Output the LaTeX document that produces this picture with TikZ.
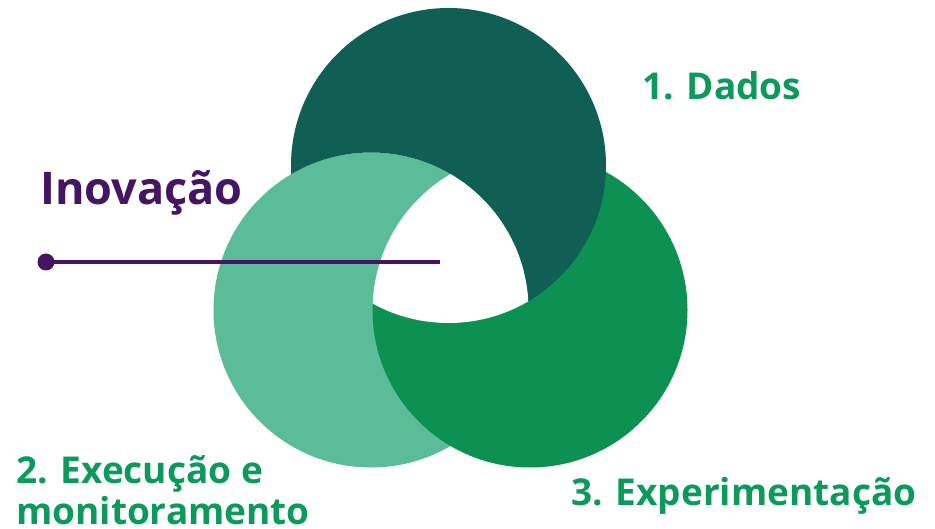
\documentclass[tikz,border=0pt]{standalone}
\usepackage{fontspec}
\setmainfont{Open Sans}
\definecolor{ringdark}{HTML}{0F5F55}
\definecolor{ringlight}{HTML}{5ABD97}
\definecolor{ringmid}{HTML}{0C9153}
\definecolor{labelgreen}{HTML}{0B9A5C}
\definecolor{innov}{HTML}{451563}
\tikzset{
  label/.style={anchor=base west, inner sep=0pt, font=\bfseries\fontsize{37}{41}\selectfont, text=labelgreen, align=left},
  headline/.style={anchor=base west, inner sep=0pt, font=\bfseries\fontsize{45}{54}\selectfont, text=innov},
  pin/.style={circle, fill=innov, minimum size=17pt, inner sep=0pt},
}
\begin{document}
\begin{tikzpicture}[x=1pt,y=-1pt]
\useasboundingbox (0,0) rectangle (935,529);
\def\R{157.5pt}
\coordinate (cD) at (448.5,165.5);
\coordinate (cL) at (371,310);
\coordinate (cM) at (530,310);

% three chained rings: light under mid, mid under dark, dark under light
\fill[ringlight] (cL) circle[radius=\R];
\fill[ringmid] (cM) circle[radius=\R];
\begin{scope}[even odd rule]
  % the dark ring shows only outside the light one
  \clip (-20,-20) rectangle (960,560) (cL) circle[radius=\R];
  \fill[ringdark] (cD) circle[radius=\R];
\end{scope}
% common centre left empty
\begin{scope}
  \clip (cD) circle[radius=\R];
  \clip (cL) circle[radius=\R];
  \fill[white] (cM) circle[radius=\R];
\end{scope}

% labels
\node[headline] (inov) at (40,205) {Inovação};
\node[pin] (dot) at (46,262) {};
\coordinate (lineend) at (440,262);
\draw[innov, line width=3.5pt] (dot.center) -- (lineend);

\node[label] (dados) at (642,100) {1. Dados};
\node[label] (exec) at (16,524) {2. Execução e\\monitoramento};
\node[label] (exper) at (571,505) {3. Experimentação};
\end{tikzpicture}
\end{document}
